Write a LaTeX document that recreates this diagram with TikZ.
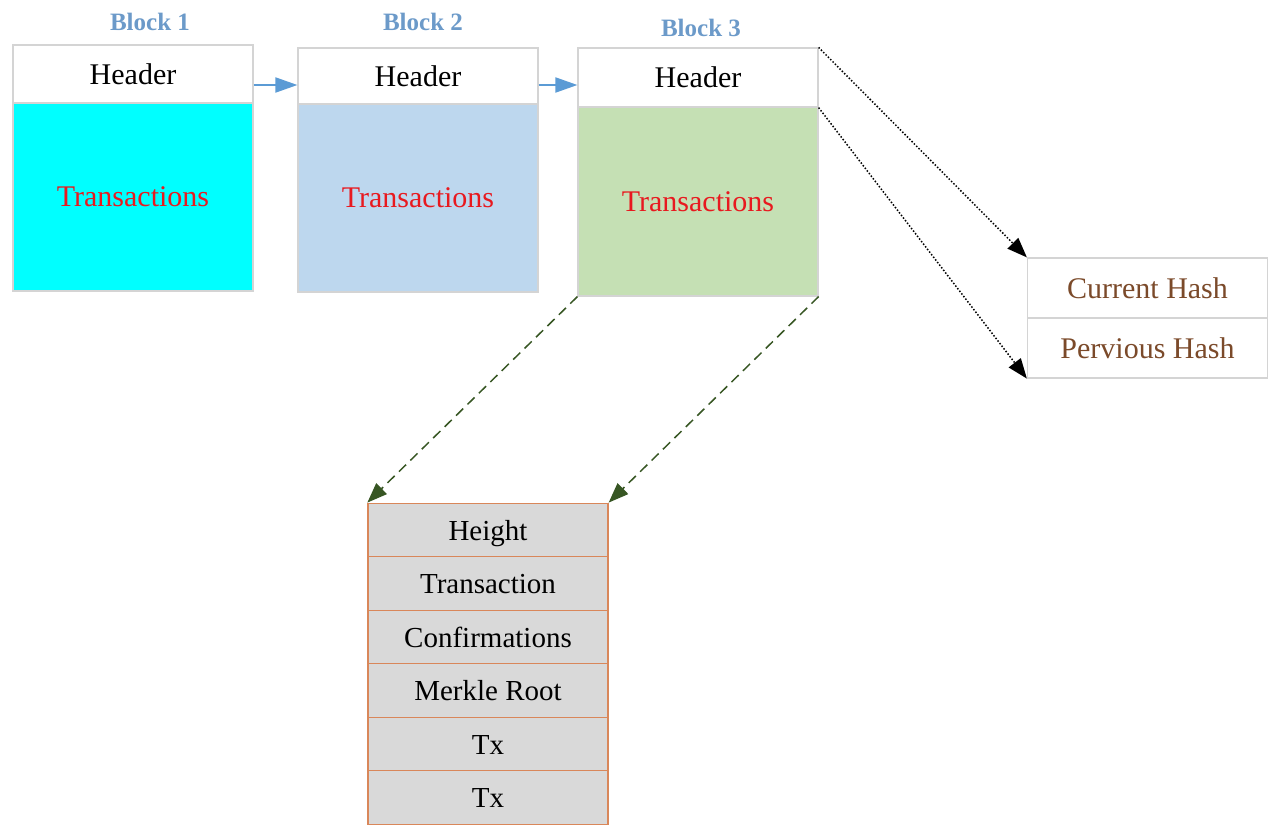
\documentclass[tikz,border=0pt]{standalone}
\usepackage{fontspec}
\setmainfont{Liberation Serif}
\usetikzlibrary{arrows.meta,calc}

\definecolor{lbl}{HTML}{6C9AC9}
\definecolor{edge}{HTML}{D4D4D4}
\definecolor{txred}{HTML}{E8191F}
\definecolor{fillA}{HTML}{00FFFF}
\definecolor{fillB}{HTML}{BDD7EE}
\definecolor{fillC}{HTML}{C5E0B4}
\definecolor{linkblue}{HTML}{5B9BD5}
\definecolor{hashtxt}{HTML}{7B4A2A}
\definecolor{rowfill}{HTML}{D9D9D9}
\definecolor{rowedge}{HTML}{D9875A}
\definecolor{dgreen}{HTML}{375623}

\tikzset{
  cell/.style={rectangle, draw=edge, line width=1.2pt, minimum width=240pt, inner sep=0pt,
               font=\fontsize{30}{34}\selectfont},
  blocklabel/.style={font=\bfseries\fontsize{25}{29}\selectfont, text=lbl},
  row/.style={rectangle, draw=rowedge, fill=rowfill, line width=1.3pt, minimum width=240pt,
              minimum height=53.5pt, inner sep=0pt, text height=23pt, text depth=3pt,
              font=\fontsize{29}{33}\selectfont},
  hashcell/.style={cell, fill=white, minimum height=60pt, text=hashtxt},
  chainlink/.style={linkblue, line width=2pt, -{Triangle[length=22pt,width=15pt]}},
  hashlink/.style={black, line width=1.5pt, dash pattern=on 1.5pt off 1.8pt,
                   -{Triangle[length=20pt,width=15pt]}},
  detaillink/.style={dgreen, line width=1.5pt, dash pattern=on 10pt off 6pt,
                     -{Triangle[length=20pt,width=15pt]}}
}

\begin{document}
\begin{tikzpicture}[x=1pt,y=-1pt]
\useasboundingbox (0,0) rectangle (1268,827);

% chain of blocks
\node[blocklabel] (l1) at (150,22) {Block 1};
\node[cell, fill=white, minimum height=58pt] (h1) at (133,74) {Header};
\node[cell, fill=fillA, minimum height=188pt, text=txred] (b1) at (133,197) {Transactions};

\node[blocklabel] (l2) at (423,22) {Block 2};
\node[cell, fill=white, minimum height=56pt] (h2) at (418,76) {Header};
\node[cell, fill=fillB, minimum height=188pt, text=txred] (b2) at (418,198) {Transactions};

\node[blocklabel] (l3) at (701,28) {Block 3};
\node[cell, fill=white, minimum height=59pt] (h3) at (698,77.5) {Header};
\node[cell, fill=fillC, minimum height=189pt, text=txred] (b3) at (698,201.5) {Transactions};

\draw[chainlink] (h1.east |- 0,85) -- (h2.west |- 0,85);
\draw[chainlink] (h2.east |- 0,85) -- (h3.west |- 0,85);

% header contents
\node[hashcell] (ch) at (1147.5,288) {Current Hash};
\node[hashcell] (ph) at (1147.5,348) {Pervious Hash};

\draw[hashlink] (h3.north east) -- (ch.north west);
\draw[hashlink] (h3.south east) -- (ph.south west);

% transaction details
\node[row] (t1) at (488,530) {Height};
\node[row] (t2) at (488,583.5) {Transaction};
\node[row] (t3) at (488,637) {Confirmations};
\node[row] (t4) at (488,690.5) {Merkle Root};
\node[row] (t5) at (488,744) {Tx};
\node[row] (t6) at (488,797.5) {Tx};

\draw[detaillink] (b3.south west) -- (t1.north west);
\draw[detaillink] (b3.south east) -- (t1.north east);
\end{tikzpicture}
\end{document}
